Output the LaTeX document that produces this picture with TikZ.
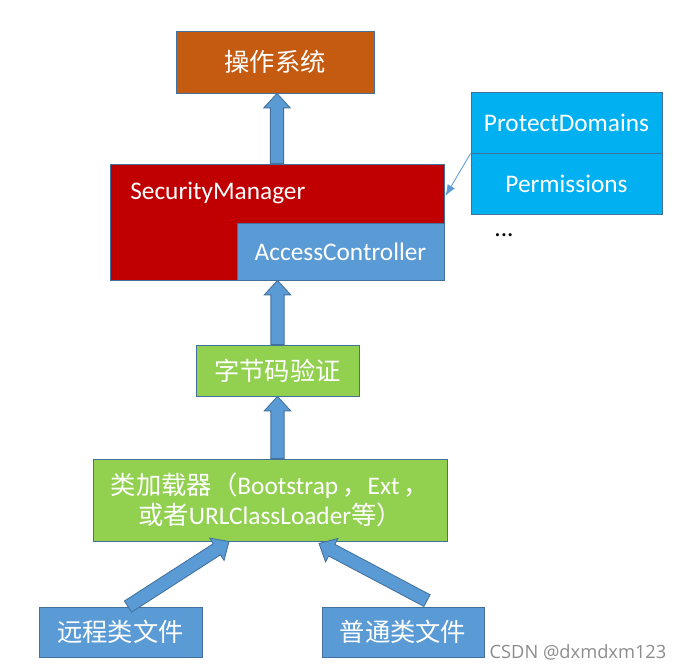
\documentclass[tikz,border=0pt]{standalone}
\usepackage{fontspec}
\setmainfont{Carlito}
\newfontfamily\cjk{Noto Sans CJK SC}
\newfontfamily\wmfont{Open Sans}
\usetikzlibrary{calc,arrows.meta}
\definecolor{osorange}{HTML}{C55A11}
\definecolor{smred}{HTML}{C00000}
\definecolor{acblue}{HTML}{5B9BD5}
\definecolor{pdcyan}{HTML}{00B0F0}
\definecolor{lgreen}{HTML}{92D050}
\definecolor{edgeblue}{HTML}{41719C}
% block arrow from #1 (base) to #2 (tip)
\newcommand{\fatarrow}[2]{%
  \coordinate (h) at ($(#2)!0.36cm!(#1)$);
  \filldraw[blockarrow] ($(#1)!0.165cm!90:(#2)$) -- ($(h)!0.165cm!-90:(#1)$) -- ($(h)!0.33cm!-90:(#1)$) -- (#2)
    -- ($(h)!0.33cm!90:(#1)$) -- ($(h)!0.165cm!90:(#1)$) -- ($(#1)!0.165cm!-90:(#2)$) -- cycle;}

\begin{document}
\begin{tikzpicture}[x=0.025cm, y=-0.025cm,
    box/.style={draw=edgeblue, line width=0.6pt, text=white, inner sep=0pt, font=\fontsize{18}{21}\selectfont},
    blockarrow/.style={draw=edgeblue, line width=0.6pt, fill=acblue},
    thinarrow/.style={draw=acblue, line width=0.6pt, -{Latex[length=8pt,width=6pt]}}]
\useasboundingbox (0,0) rectangle (684,671);
\node[box, fill=osorange, minimum width=4.95cm, minimum height=1.55cm] (os) at (275,62) {\cjk 操作系统};
\node[box, fill=smred, minimum width=8.35cm, minimum height=2.9cm] (sm) at (277,222) {};
\node[box, fill=acblue, minimum width=5.175cm, minimum height=1.425cm] (ac) at (340.5,251.5) {AccessController};
\node[text=white, anchor=west, inner sep=0pt, font=\fontsize{18}{21}\selectfont] (smtext) at (130,193) {SecurityManager};
\node[box, fill=pdcyan, minimum width=4.775cm, minimum height=1.525cm] (pd) at (566.5,122.5) {ProtectDomains};
\node[box, fill=pdcyan, minimum width=4.775cm, minimum height=1.525cm] (perm) at (566.5,183.5) {Permissions};
\node[font=\fontsize{18}{21}\selectfont] (dots) at (504,235) {...};
\node[box, fill=lgreen, minimum width=4.075cm, minimum height=1.275cm] (bv) at (277.5,370.5) {\cjk 字节码验证};
\node[box, fill=lgreen, minimum width=8.85cm, minimum height=2.05cm, align=center] (loader) at (270,500)
  {{\cjk 类加载器（}Bootstrap\,{\cjk ，}Ext\,{\cjk ，}\\{\cjk 或者}URLClassLoader{\cjk 等）}};
\node[box, fill=acblue, minimum width=4.075cm, minimum height=1.25cm] (remote) at (120.5,632) {\cjk 远程类文件};
\node[box, fill=acblue, minimum width=4.05cm, minimum height=1.25cm] (normal) at (403,632) {\cjk 普通类文件};
\node[text=black!45, font=\wmfont\fontsize{13}{15}\selectfont] (mark) at (578,652) {CSDN @dxmdxm123};
% arrows
\coordinate (a1) at (sm.north |- os.south);
\fatarrow{sm.north}{a1}
\coordinate (a2) at (bv.north |- sm.south);
\fatarrow{bv.north}{a2}
\coordinate (a3) at (bv.south |- loader.north);
\fatarrow{a3}{bv.south}
\coordinate (lbase) at ($(remote.north)+(7.5,0)$);
\coordinate (ltip) at ($(loader.south)+(-41,0)$);
\fatarrow{lbase}{ltip}
\coordinate (rbase) at ($(normal.north)+(24,-6)$);
\coordinate (rtip) at ($(loader.south)+(49,2)$);
\fatarrow{rbase}{rtip}
\coordinate (smin) at ($(sm.east)+(1,-26)$);
\draw[thinarrow] (pd.south west) -- (smin);
\end{tikzpicture}
\end{document}
